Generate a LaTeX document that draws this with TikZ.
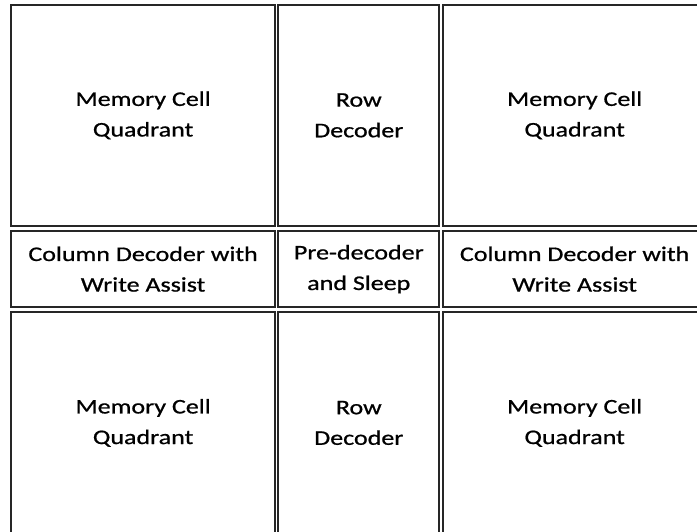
\documentclass[tikz,border=0pt]{standalone}
\usepackage{fontspec}
\setmainfont{Carlito}[FakeStretch=1.25,FakeBold=0.8]
\begin{document}
\begin{tikzpicture}[x=1pt,y=-1pt,
  cell/.style={draw=black!85, line width=2pt, anchor=north west, align=center,
    inner sep=0pt, outer sep=0pt,
    font=\fontsize{20.8}{30.6}\selectfont}]
\useasboundingbox (0,0) rectangle (697,532);
% columns: 11--275.2, 278.3--439.3, 443.3--706
% rows: 5--225.7, 231--307.3, 312.3--533.5
\node[cell, minimum width=264.2pt, minimum height=220.7pt] (tl) at (11,5) {Memory Cell\\Quadrant};
\node[cell, minimum width=161pt, minimum height=220.7pt] (tm) at (278.3,5) {Row\\Decoder};
\node[cell, minimum width=262.7pt, minimum height=220.7pt] (tr) at (443.3,5) {Memory Cell\\Quadrant};
\node[cell, minimum width=264.2pt, minimum height=76.3pt] (ml) at (11,231) {Column Decoder with\\Write Assist};
\node[cell, minimum width=161pt, minimum height=76.3pt] (mm) at (278.3,231) {Pre-decoder\\and Sleep};
\node[cell, minimum width=262.7pt, minimum height=76.3pt] (mr) at (443.3,231) {Column Decoder with\\Write Assist};
\node[cell, minimum width=264.2pt, minimum height=221.2pt] (bl) at (11,312.3) {Memory Cell\\Quadrant};
\node[cell, minimum width=161pt, minimum height=221.2pt] (bm) at (278.3,312.3) {Row\\Decoder};
\node[cell, minimum width=262.7pt, minimum height=221.2pt] (br) at (443.3,312.3) {Memory Cell\\Quadrant};
\end{tikzpicture}
\end{document}
